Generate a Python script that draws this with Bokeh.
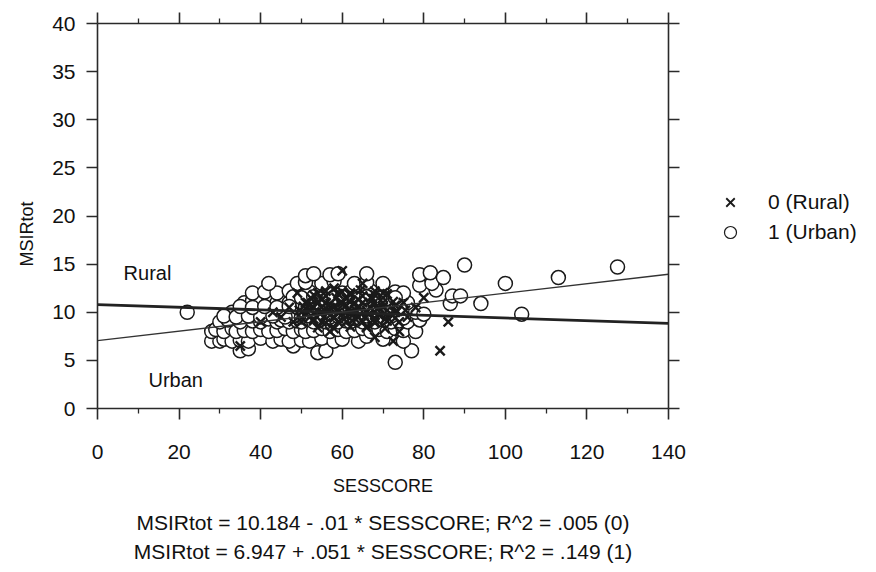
from bokeh.plotting import figure
from bokeh.layouts import row
from bokeh.models import LinearAxis, FixedTicker, Range1d, Label, Legend, LegendItem, Title
from bokeh.embed import file_html
from bokeh.resources import INLINE

# ---------------- data ----------------
urban_x = [73, 35, 37, 54, 56, 77, 48,
           28, 30, 31, 33, 35, 37, 40, 43, 45, 47, 50, 52, 55, 58, 60, 64, 66, 70, 75,
           28, 29, 31, 33, 34, 36, 38, 40, 42, 44, 46, 48, 50, 51, 53, 55, 57, 59, 61, 63, 65, 67, 69, 71, 73, 75, 78,
           30, 32, 35, 38, 40, 42, 44, 45, 47, 49, 50, 52, 53, 55, 56, 58, 59, 61, 62, 64, 65, 67, 68, 70, 72, 74, 76, 79,
           22, 33, 36, 39, 41, 43, 46, 48, 50, 51, 53, 54, 56, 57, 59, 60, 62, 63, 65, 66, 68, 69, 71, 73, 75, 78, 80, 104,
           36, 38, 40, 42, 44, 46, 47, 49, 51, 52, 54, 56, 57, 59, 61, 62, 64, 66, 68, 70, 72, 74, 76, 86.5, 94,
           38, 41, 44, 47, 50, 52, 55, 57, 60, 62, 65, 67, 70, 73, 75, 87, 89, 83,
           42, 49, 51, 55, 58, 63, 66, 70, 79, 82, 100,
           51, 53, 57, 59, 66, 79, 81.6, 84.8, 113,
           90, 127.5,
           48, 50, 52, 54, 57, 59, 61, 63, 66, 68, 70, 72, 75,
           49, 51, 53, 56, 58, 60, 62, 65, 67, 69, 71, 74,
           48, 50, 53, 55, 58, 60, 63, 64, 66, 69, 71, 73,
           31, 34, 37, 40, 43, 46,
           35, 38, 41, 44, 47]
urban_y = [4.8, 6, 6.2, 5.8, 6, 6, 6.5,
           7, 7, 7.2, 7, 7.1, 7, 7.3, 7, 7.2, 7, 7.1, 7, 7.3, 7, 7.2, 7, 7.5, 7.2, 7,
           8, 8.2, 8, 8.3, 8, 8.1, 8, 8.2, 8, 8.1, 8.3, 8, 8.2, 8, 8.1, 8.3, 8, 8.2, 8, 8.1, 8.3, 8, 8.2, 8, 8.3, 8.1, 8,
           9, 9.2, 9, 9.1, 9, 9.3, 9, 9.2, 9, 9.1, 9, 9.3, 9, 9.1, 9, 9.2, 9, 9.1, 9, 9.2, 9, 9.1, 9, 9.2, 9, 9.1, 9, 9.2,
           10, 10, 10.1, 10, 10.2, 10, 10.1, 10, 10.2, 10, 10.1, 10, 10.2, 10, 10.1, 10, 10.2, 10, 10.1, 10, 10.2, 10, 10.1, 10, 10.2, 10, 9.8, 9.8,
           11, 11.2, 11, 11.1, 11, 11.2, 11, 11.1, 11, 11.2, 11, 11.1, 11, 11.2, 11, 11.1, 11, 11.2, 11, 11.1, 11, 11.2, 11, 10.9, 10.9,
           12, 12.1, 12, 12.2, 12, 12.1, 12, 12.2, 12, 12.1, 12, 12.2, 12, 12.1, 12, 11.7, 11.7, 12.3,
           13, 13, 13.1, 13, 13.2, 13, 13.1, 13, 12.8, 13, 13,
           13.8, 14, 13.9, 14, 14, 13.9, 14.1, 13.6, 13.6,
           14.9, 14.7,
           9.6, 9.5, 9.6, 9.4, 9.5, 9.6, 9.5, 9.4, 9.6, 9.5, 9.5, 9.6, 9.4,
           10.5, 10.6, 10.4, 10.5, 10.6, 10.5, 10.4, 10.6, 10.5, 10.4, 10.6, 10.5,
           11.6, 11.5, 11.6, 11.4, 11.5, 11.6, 11.5, 11.4, 11.6, 11.5, 11.4, 11.5,
           9.6, 9.5, 9.6, 9.5, 9.6, 9.5,
           10.6, 10.5, 10.6, 10.5, 10.6]

rural_x = [35, 40, 43, 45, 47, 48, 50, 51, 52, 53, 54, 55, 55, 56, 57, 58, 58, 59, 60, 60,
           61, 62, 62, 63, 64, 64, 65, 66, 67, 68, 68, 69, 70, 71, 72.5, 73, 74, 75, 76, 78,
           80, 84, 86, 57, 49, 66, 70,
           50, 53, 56, 59, 62.5, 65, 68, 71, 74,
           51, 54.5, 57, 60, 63, 66.5, 69, 72,
           50.5, 52, 55, 58, 61, 64, 67, 70, 73,
           52.5, 55, 58.5, 61, 64, 67.5, 70,
           54, 58, 62, 66, 70.5,
           56, 60, 64.5, 68,
           49.5, 52, 54, 56.5, 59, 61.5, 63.5, 66, 68.5, 71, 73.5, 75.5,
           50, 53, 55.5, 58, 60.5, 63, 65.5, 68, 70.5, 73,
           51.5, 54, 57, 59.5, 62, 65, 67.5, 70, 72.5,
           53, 56, 59, 62, 65, 68, 71]
rural_y = [6.5, 9, 10, 9.5, 10.5, 9, 10, 11, 9.5, 10.5, 12, 9, 10, 11, 10.5, 9.5, 12.5, 10, 14.3, 11,
           9, 10, 12, 11, 9.5, 10.5, 13, 10, 11.5, 7.4, 9, 10.5, 12, 9.5, 7, 10, 8, 11, 9.5, 10.5,
           11.5, 6, 9, 8, 12, 8.5, 10.5,
           9.0, 9.1, 8.9, 9.0, 9.1, 9.0, 8.9, 9.1, 9.0,
           9.8, 9.9, 9.7, 9.8, 9.9, 9.8, 9.7, 9.8,
           10.6, 10.7, 10.5, 10.6, 10.7, 10.6, 10.5, 10.6, 10.7,
           11.4, 11.3, 11.5, 11.4, 11.3, 11.4, 11.5,
           8.4, 8.3, 8.5, 8.4, 8.3,
           12.2, 12.1, 12.3, 12.2,
           10.2, 10.3, 10.1, 10.2, 10.3, 10.2, 10.1, 10.2, 10.3, 10.2, 10.1, 10.2,
           9.4, 9.3, 9.5, 9.4, 9.3, 9.4, 9.5, 9.4, 9.3, 9.4,
           11.0, 11.1, 10.9, 11.0, 11.1, 11.0, 10.9, 11.0, 11.1,
           11.8, 11.7, 11.9, 11.8, 11.7, 11.8, 11.9]

fit_x = [0, 140]
rural_fit_y = [10.8, 8.85]
urban_fit_y = [7.05, 13.95]

x_ticks = [0, 20, 40, 60, 80, 100, 120, 140]
x_minor = [10, 30, 50, 70, 90, 110, 130]
y_ticks = [0, 5, 10, 15, 20, 25, 30, 35, 40]

legend_labels = ["0 (Rural)", "1 (Urban)"]
caption_rural = "MSIRtot = 10.184 - .01 * SESSCORE; R^2 = .005 (0)"
caption_urban = "MSIRtot = 6.947 + .051 * SESSCORE; R^2 = .149 (1)"

# ---------------- figure ----------------
FONT = "Liberation Sans"
INK = "#2a2a2a"
TXT = "#111111"

p = figure(width=700, height=572, output_backend="svg", toolbar_location=None,
           x_range=Range1d(0, 140), y_range=Range1d(0, 40),
           x_axis_location=None, y_axis_location=None,
           min_border_left=97, min_border_right=32, min_border_top=23, min_border_bottom=164)
p.grid.visible = False
p.outline_line_color = None
p.background_fill_color = "white"
p.border_fill_color = "white"


def style_axis(ax, ticks, show_labels):
    ax.axis_line_color = INK
    ax.axis_line_width = 1.6
    ax.major_tick_line_color = INK
    ax.major_tick_line_width = 1.6
    ax.minor_tick_line_color = INK
    ax.minor_tick_line_width = 1.3
    ax.major_tick_in = 0
    ax.major_tick_out = 11
    ax.minor_tick_in = 0
    ax.minor_tick_out = 5
    if show_labels:
        ax.major_label_text_font = FONT
        ax.major_label_text_font_size = "21px"
        ax.major_label_text_color = TXT
    else:
        ax.major_label_overrides = {t: "" for t in ticks}
        ax.major_label_text_font_size = "1px"
        ax.major_label_standoff = 0


xb = LinearAxis(ticker=FixedTicker(ticks=x_ticks, minor_ticks=x_minor))
style_axis(xb, x_ticks, True)
xb.major_label_standoff = 25
p.add_layout(xb, "below")

xt = LinearAxis(ticker=FixedTicker(ticks=x_ticks, minor_ticks=x_minor))
style_axis(xt, x_ticks, False)
p.add_layout(xt, "above")

yl = LinearAxis(ticker=FixedTicker(ticks=y_ticks, minor_ticks=[]))
style_axis(yl, y_ticks, True)
yl.major_label_standoff = 11
p.add_layout(yl, "left")

yr = LinearAxis(ticker=FixedTicker(ticks=y_ticks, minor_ticks=[]))
style_axis(yr, y_ticks, False)
p.add_layout(yr, "right")

# y-axis title, placed a little below the frame centre as in the reference
p.add_layout(Title(text="MSIRtot", text_font=FONT, text_font_size="18px",
                   text_font_style="normal", text_color=TXT, align="left",
                   vertical_align="top", offset=142, standoff=22), "left")

# x-axis title and the two regression captions, stacked below the axis
for txt, size, stand in [("SESSCORE", "18px", 24),
                         (caption_rural, "21px", 2),
                         (caption_urban, "21px", 6)]:
    p.add_layout(Title(text=txt, text_font=FONT, text_font_size=size,
                       text_font_style="normal", text_color=TXT, align="center",
                       standoff=stand), "below")

# points
r_urban = p.scatter(urban_x, urban_y, marker="circle", size=14,
                    fill_color="white", line_color="#1a1a1a", line_width=1.5)
r_rural = p.scatter(rural_x, rural_y, marker="x", size=13,
                    line_color="#1a1a1a", line_width=2.4)

# fitted lines
p.line(fit_x, rural_fit_y, line_color="#222222", line_width=2.8)
p.line(fit_x, urban_fit_y, line_color="#333333", line_width=1.4)

# in-plot labels
for lx, ly, lt in [(6.4, 14.1, "Rural"), (12.5, 3.0, "Urban")]:
    p.add_layout(Label(x=lx, y=ly, text=lt, text_font=FONT, text_font_size="20px",
                       text_color=TXT, text_align="left", text_baseline="middle"))

# ---------------- legend panel ----------------
lf = figure(width=176, height=572, output_backend="svg", toolbar_location=None,
            x_range=Range1d(0, 1), y_range=Range1d(0, 1),
            x_axis_location=None, y_axis_location=None,
            min_border_left=0, min_border_right=0, min_border_top=0, min_border_bottom=0)
lf.grid.visible = False
lf.outline_line_color = None
lf.border_fill_color = "white"
# proxy glyphs for the legend only (kept outside the visible range)
lx_r = lf.scatter([-5], [-5], marker="x", size=12, line_color="#1a1a1a", line_width=1.8)
lx_u = lf.scatter([-5], [-5], marker="circle", size=12, fill_color="white",
                  line_color="#1a1a1a", line_width=1.2)
legend = Legend(items=[LegendItem(label=legend_labels[0], renderers=[lx_r]),
                       LegendItem(label=legend_labels[1], renderers=[lx_u])],
                location=(15, 161), orientation="vertical",
                padding=0, margin=0, spacing=0,
                glyph_width=30, glyph_height=30, label_standoff=23,
                label_text_font=FONT, label_text_font_size="21px",
                label_text_color=TXT,
                background_fill_alpha=0, border_line_color=None)
lf.add_layout(legend, "center")

layout = row(p, lf, spacing=0)
open("out.html", "w").write(file_html(layout, INLINE))
